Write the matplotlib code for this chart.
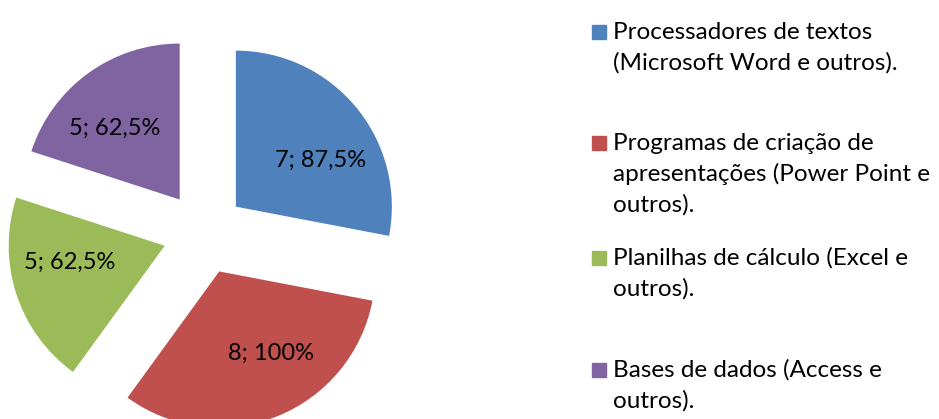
import numpy as np
import matplotlib
matplotlib.use("Agg")
import matplotlib.pyplot as plt
from matplotlib.patches import Rectangle

plt.rcParams['font.family'] = ['Lato', 'DejaVu Sans']

# data
categories = [
    "Processadores de textos\n(Microsoft Word e outros).",
    "Programas de criação de\napresentações (Power Point e\noutros).",
    "Planilhas de cálculo (Excel e\noutros).",
    "Bases de dados (Access e\noutros).",
]
counts = [7, 8, 5, 5]
percents = [87.5, 100, 62.5, 62.5]
colors = ["#4F81BD", "#C0504D", "#9BBB59", "#8064A2"]

W, H = 939, 419
fig = plt.figure(figsize=(W / 100, H / 100), dpi=100)
ax = fig.add_axes([0, 0, 1, 1])

# pie centre and radius in pixels (pie is cropped by the figure)
cx, cy, r_px = 204, 233, 156
explode = 0.265

wedges, _ = ax.pie(counts, colors=colors, startangle=90, counterclock=False,
                   explode=[explode] * len(counts), radius=1,
                   wedgeprops=dict(linewidth=0))
ax.set_xlim(-cx / r_px, (W - cx) / r_px)
ax.set_ylim((cy - H) / r_px, cy / r_px)
ax.set_aspect('auto')
ax.axis('off')

# small angular nudges so labels sit where Excel put them
label_nudge = [-11, 11, -8, 6.5]
for w, c, p, nd in zip(wedges, counts, percents, label_nudge):
    mid = np.deg2rad((w.theta1 + w.theta2) / 2 + nd)
    x0, y0 = w.center
    txt = f"{c}; {p:g}%".replace('.', ',')
    ax.text(x0 + 0.62 * np.cos(mid), y0 + 0.62 * np.sin(mid), txt,
            ha='center', va='center', fontsize=17, color='black')

# legend drawn by hand (Excel-like uneven spacing)
first_baselines = [39, 150, 265, 377]
line_h = 31
for lab, col, b in zip(categories, colors, first_baselines):
    fig.patches.append(Rectangle((592 / W, 1 - b / H), 14 / W, 14 / H,
                                 transform=fig.transFigure, color=col))
    for k, line in enumerate(lab.split("\n")):
        fig.text(613 / W, 1 - (b + k * line_h) / H, line, fontsize=17.5,
                 ha='left', va='baseline', color='black')

fig.savefig("out.png", dpi=100)
